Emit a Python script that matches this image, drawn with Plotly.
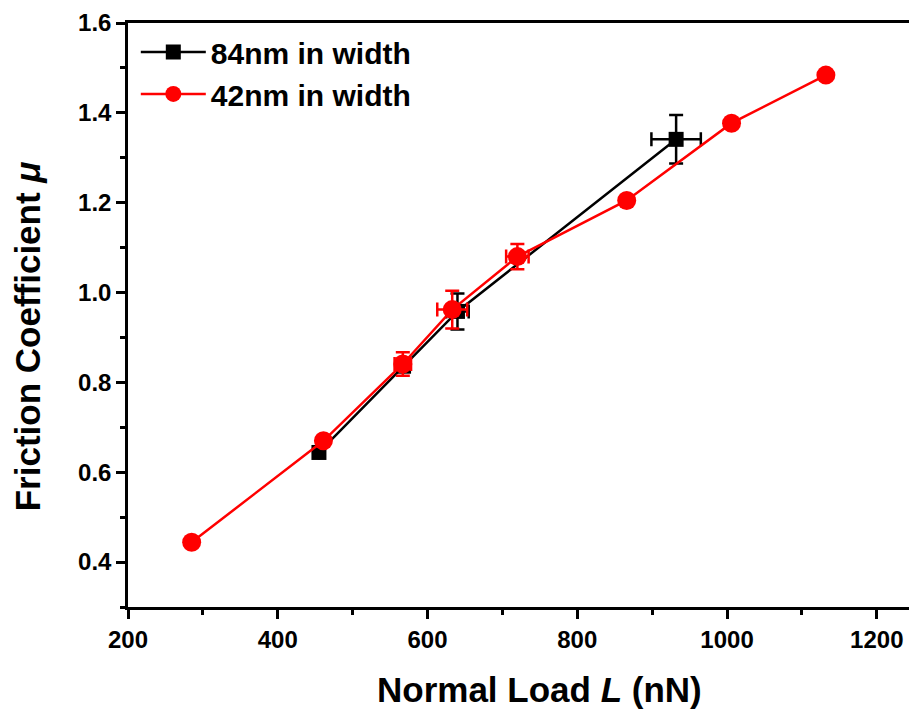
import plotly.graph_objects as go

# 84 nm in width
load_84 = [455, 568, 640, 932]
mu_84 = [0.644, 0.836, 0.958, 1.341]
load_err_84 = [0, 0, 15, 33]
mu_err_84 = [0, 0, 0.040, 0.054]

# 42 nm in width
load_42 = [285, 461, 567, 633, 720, 866, 1006, 1132]
mu_42 = [0.444, 0.670, 0.841, 0.962, 1.080, 1.205, 1.377, 1.484]
load_err_42 = [0, 0, 11, 20, 15, 0, 0, 0]
mu_err_42 = [0, 0, 0.026, 0.042, 0.028, 0, 0, 0]

x_ticks = [200, 400, 600, 800, 1000, 1200]
y_ticks = [0.4, 0.6, 0.8, 1.0, 1.2, 1.4, 1.6]

fig = go.Figure()
fig.add_trace(go.Scatter(
    x=load_84, y=mu_84, mode="lines+markers", name="84nm in width",
    line=dict(color="black", width=2.5),
    marker=dict(symbol="square", size=15, color="black"),
    error_x=dict(type="data", array=load_err_84, color="black", thickness=2.5, width=7),
    error_y=dict(type="data", array=mu_err_84, color="black", thickness=2.5, width=7),
))
fig.add_trace(go.Scatter(
    x=load_42, y=mu_42, mode="lines+markers", name="42nm in width",
    line=dict(color="#ff0000", width=2.5),
    marker=dict(symbol="circle", size=19, color="#ff0000"),
    error_x=dict(type="data", array=load_err_42, color="#ff0000", thickness=2.5, width=7),
    error_y=dict(type="data", array=mu_err_42, color="#ff0000", thickness=2.5, width=7),
))

title_font = dict(family="Liberation Sans", size=35, color="black", weight="bold")

fig.update_layout(
    width=909, height=714,
    margin=dict(l=128, r=0, t=23, b=107),
    plot_bgcolor="white", paper_bgcolor="white",
    showlegend=True,
    legend=dict(x=0.01, y=0.995, xanchor="left", yanchor="top",
                bgcolor="rgba(0,0,0,0)", borderwidth=0,
                itemwidth=65, tracegroupgap=0,
                font=dict(family="Liberation Sans", size=30, color="black", weight="bold")),
    xaxis=dict(
        range=[200, 1243], tickvals=x_ticks, ticktext=[str(v) for v in x_ticks],
        showgrid=False, zeroline=False, showline=True, linecolor="black", linewidth=2.5,
        mirror=True, ticks="outside", ticklen=9, tickwidth=2.5, tickcolor="black",
        minor=dict(dtick=100, tick0=200, ticks="outside", ticklen=5, tickwidth=2.5, tickcolor="black"),
        tickfont=dict(family="Liberation Sans", size=24, color="black", weight="bold"),
    ),
    yaxis=dict(
        range=[0.3, 1.6], tickvals=y_ticks, ticktext=["%.1f" % v for v in y_ticks],
        showgrid=False, zeroline=False, showline=True, linecolor="black", linewidth=2.5,
        mirror=False, ticks="outside", ticklen=9, tickwidth=2.5, tickcolor="black",
        minor=dict(dtick=0.1, tick0=0.3, ticks="outside", ticklen=5, tickwidth=2.5, tickcolor="black"),
        tickfont=dict(family="Liberation Sans", size=24, color="black", weight="bold"),
    ),
    annotations=[
        dict(text="Normal Load <i>L</i> (nN)", xref="paper", yref="paper",
             x=0.5275, y=-0.142, xanchor="center", yanchor="middle",
             showarrow=False, font=title_font),
        dict(text="Friction Coefficient <i>μ</i>", xref="paper", yref="paper",
             x=-0.129, y=0.464, xanchor="center", yanchor="middle", textangle=-90,
             showarrow=False, font=title_font),
    ],
)

fig.write_html("out.html")
